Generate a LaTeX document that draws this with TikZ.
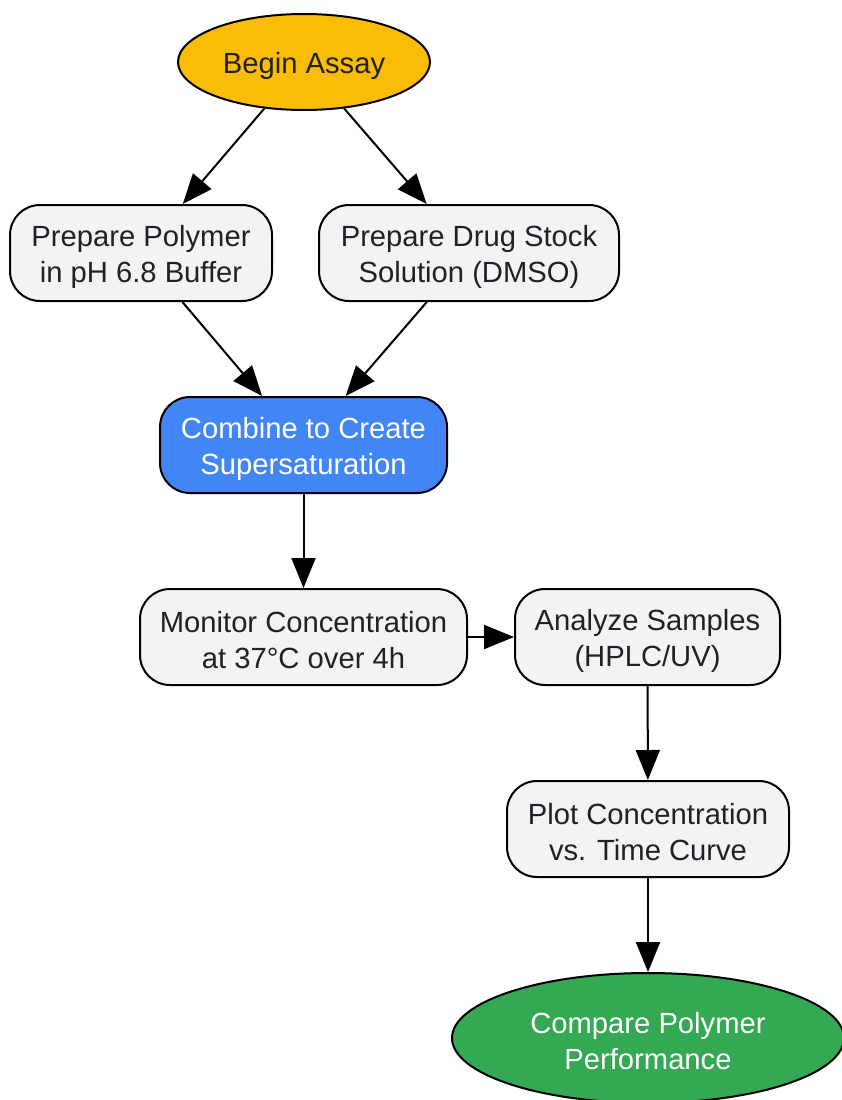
\documentclass[tikz,border=0pt]{standalone}
\usepackage{fontspec}
\setmainfont{Liberation Sans}
\usetikzlibrary{shapes.geometric,arrows.meta}
\definecolor{startc}{HTML}{FBBC05}
\definecolor{procc}{HTML}{F1F3F4}
\definecolor{keyc}{HTML}{4285F4}
\definecolor{endc}{HTML}{34A853}
\definecolor{txtc}{HTML}{202124}
\begin{document}
\begin{tikzpicture}[x=1pt,y=-1pt,
  base/.style={draw=black,line width=2pt,inner sep=0pt},
  lbl/.style={align=center,inner sep=0pt,yshift=-3.5pt,
    font=\fontsize{29.2}{36}\selectfont,text=txtc},
  wlbl/.style={lbl,text=white},
  stepbox/.style={base,rectangle,rounded corners=30pt,fill=procc,minimum height=96pt},
  oval/.style={base,ellipse},
  conn/.style={line width=2pt,draw=black,-{Triangle[length=30pt,width=24pt]}}]
\useasboundingbox (0,0) rectangle (841,1100);
\node[oval,fill=startc,minimum width=252pt,minimum height=96pt,
  label={[lbl]center:Begin Assay}] (begin) at (304,62) {};
\node[stepbox,minimum width=262pt,
  label={[lbl]center:Prepare Polymer\\in pH 6.8 Buffer}] (poly) at (141,253) {};
\node[stepbox,minimum width=300pt,
  label={[lbl]center:Prepare Drug Stock\\Solution (DMSO)}] (drug) at (469,253) {};
\node[stepbox,fill=keyc,minimum width=287pt,
  label={[wlbl]center:Combine to Create\\Supersaturation}] (comb) at (303.5,445) {};
\node[stepbox,minimum width=327pt,
  label={[lbl]center:Monitor Concentration\\at 37°C over 4h}] (mon) at (303.5,637) {};
\node[stepbox,minimum width=265pt,
  label={[lbl]center:Analyze Samples\\(HPLC/UV)}] (ana) at (647.5,637) {};
\node[stepbox,minimum width=282pt,
  label={[lbl]center:Plot Concentration\\vs. Time Curve}] (plot) at (648,829) {};
\node[oval,fill=endc,minimum width=392pt,minimum height=130pt,
  label={[wlbl]center:Compare Polymer\\Performance}] (cmp) at (648,1038) {};
\draw[conn] (begin) -- (poly);
\draw[conn] (begin) -- (drug);
\draw[conn] (poly) -- (comb);
\draw[conn] (drug) -- (comb);
\draw[conn] (comb) -- (mon);
\draw[conn] (mon) -- (ana);
\draw[conn] (ana) -- (plot);
\draw[conn] (plot) -- (cmp);
\end{tikzpicture}
\end{document}
